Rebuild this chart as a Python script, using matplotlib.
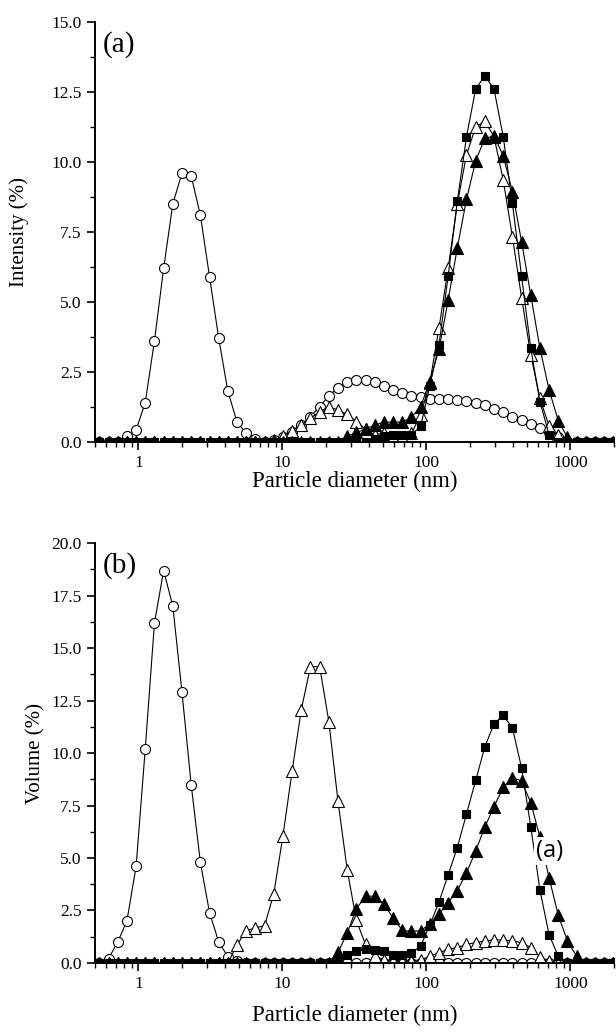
import matplotlib
matplotlib.use("Agg")
import matplotlib.pyplot as plt
from matplotlib.ticker import FixedLocator, MultipleLocator, FormatStrFormatter, NullFormatter

plt.rcParams['font.family'] = ['Liberation Serif', 'DejaVu Serif']

# size bins (nm)
diam = [0.4000, 0.4632, 0.5365, 0.6213, 0.7195, 0.8332, 0.9649, 1.117, 1.294, 1.499,
        1.736, 2.010, 2.328, 2.696, 3.122, 3.615, 4.187, 4.849, 5.615, 6.503,
        7.531, 8.721, 10.10, 11.70, 13.54, 15.69, 18.17, 21.04, 24.36, 28.21,
        32.67, 37.84, 43.82, 50.75, 58.77, 68.06, 78.82, 91.28, 105.7, 122.4,
        141.8, 164.2, 190.1, 220.2, 255.0, 295.3, 342.0, 396.1, 458.7, 531.2,
        615.1, 712.4, 825.0, 955.4, 1106, 1281, 1484, 1718, 1990, 2305]

# (a) intensity distributions
int_circle = [0, 0, 0, 0, 0, 0.2, 0.42, 1.4, 3.6, 6.2,
              8.5, 9.6, 9.5, 8.1, 5.9, 3.7, 1.8, 0.7, 0.3, 0.1,
              0, 0.05, 0.15, 0.35, 0.6, 0.9, 1.25, 1.65, 1.92, 2.12,
              2.2, 2.2, 2.12, 1.98, 1.85, 1.74, 1.64, 1.58, 1.54, 1.54,
              1.53, 1.5, 1.44, 1.38, 1.3, 1.18, 1.06, 0.9, 0.76, 0.63,
              0.5, 0.34, 0.18, 0, 0, 0, 0, 0, 0, 0]
int_otri = [0, 0, 0, 0, 0, 0, 0, 0, 0, 0,
            0, 0, 0, 0, 0, 0, 0, 0, 0, 0,
            0, 0.05, 0.2, 0.4, 0.6, 0.84, 1.07, 1.25, 1.13, 0.98,
            0.72, 0.45, 0.25, 0.3, 0.18, 0.18, 0.3, 0.95, 2.1, 4.05,
            6.2, 8.5, 10.25, 11.25, 11.45, 10.9, 9.35, 7.33, 5.15, 3.1,
            1.55, 0.55, 0.24, 0, 0, 0, 0, 0, 0, 0]
int_sq = [0, 0, 0, 0, 0, 0, 0, 0, 0, 0,
          0, 0, 0, 0, 0, 0, 0, 0, 0, 0,
          0, 0, 0, 0, 0, 0, 0, 0, 0, 0,
          0, 0, 0.1, 0.2, 0.25, 0.25, 0.25, 0.55, 2.0, 3.46,
          5.92, 8.6, 10.9, 12.6, 13.08, 12.6, 10.9, 8.52, 5.92, 3.34,
          1.43, 0.25, 0, 0, 0, 0, 0, 0, 0, 0]
int_ftri = [0, 0, 0, 0, 0, 0, 0, 0, 0, 0,
            0, 0, 0, 0, 0, 0, 0, 0, 0, 0,
            0, 0, 0, 0, 0, 0, 0, 0, 0, 0.2,
            0.33, 0.45, 0.6, 0.7, 0.7, 0.7, 0.87, 1.25, 2.15, 3.3,
            5.06, 6.93, 8.66, 10.04, 10.84, 10.93, 10.22, 8.94, 7.15, 5.24,
            3.34, 1.85, 0.75, 0.15, 0, 0, 0, 0, 0, 0]

# (b) volume distributions
vol_circle = [0, 0, 0, 0.21, 1.0, 2.0, 4.6, 10.2, 16.2, 18.7,
              17.0, 12.9, 8.5, 4.8, 2.4, 1.0, 0.3, 0.1, 0, 0,
              0, 0, 0, 0, 0, 0, 0, 0, 0, 0,
              0, 0, 0, 0, 0, 0, 0, 0, 0, 0,
              0, 0, 0, 0, 0, 0, 0, 0, 0, 0,
              0, 0, 0, 0, 0, 0, 0, 0, 0, 0]
vol_otri = [0, 0, 0, 0, 0, 0, 0, 0, 0, 0,
            0, 0, 0, 0, 0, 0, 0, 0.86, 1.54, 1.67,
            1.78, 3.29, 6.07, 9.15, 12.07, 14.12, 14.12, 11.5, 7.7, 4.45,
            2.03, 0.88, 0.35, 0.15, 0.1, 0.1, 0.1, 0.15, 0.32, 0.49,
            0.65, 0.73, 0.89, 0.97, 1.05, 1.1, 1.1, 1.05, 0.97, 0.73,
            0.28, 0.1, 0, 0, 0, 0, 0, 0, 0, 0]
vol_sq = [0, 0, 0, 0, 0, 0, 0, 0, 0, 0,
          0, 0, 0, 0, 0, 0, 0, 0, 0, 0,
          0, 0, 0, 0, 0, 0, 0, 0, 0, 0.4,
          0.57, 0.65, 0.6, 0.57, 0.4, 0.4, 0.49, 0.8, 1.8, 2.9,
          4.2, 5.5, 7.1, 8.7, 10.3, 11.4, 11.8, 11.2, 9.3, 6.5,
          3.48, 1.34, 0.32, 0, 0, 0, 0, 0, 0, 0]
vol_ftri = [0, 0, 0, 0, 0, 0, 0, 0, 0, 0,
            0, 0, 0, 0, 0, 0, 0, 0, 0, 0,
            0, 0, 0, 0, 0, 0, 0, 0, 0.5, 1.42,
            2.58, 3.18, 3.18, 2.8, 2.15, 1.56, 1.5, 1.54, 1.86, 2.35,
            2.87, 3.45, 4.29, 5.34, 6.48, 7.45, 8.37, 8.83, 8.67, 7.64,
            6.0, 4.05, 2.27, 1.05, 0.32, 0, 0, 0, 0, 0]

styles = [dict(marker='o', mfc='white', ms=7.2),
          dict(marker='^', mfc='white', ms=8),
          dict(marker='s', mfc='black', ms=6.2),
          dict(marker='^', mfc='black', ms=8)]


def draw_panel(ax, series, ymax, ylabel, tag, xpad, ypad):
    for vals, st in zip(series, styles):
        ax.plot(diam, vals, color='black', lw=0.8, mec='black', mew=0.8, **st)
    ax.set_xscale('log')
    ax.set_xlim(0.5, 2000)
    ax.set_ylim(0, ymax)
    ax.xaxis.set_major_locator(FixedLocator([1, 10, 100, 1000]))
    ax.xaxis.set_major_formatter(FormatStrFormatter('%d'))
    minors = [m * 10.0 ** e for e in range(-1, 4) for m in range(2, 10)]
    ax.xaxis.set_minor_locator(FixedLocator(minors))
    ax.xaxis.set_minor_formatter(NullFormatter())
    ax.yaxis.set_major_locator(MultipleLocator(2.5))
    ax.yaxis.set_minor_locator(MultipleLocator(1.25))
    ax.yaxis.set_major_formatter(FormatStrFormatter('%.1f'))
    for s in ['top', 'right']:
        ax.spines[s].set_visible(False)
    for s in ['left', 'bottom']:
        ax.spines[s].set_linewidth(1.4)
    ax.tick_params(which='major', direction='out', length=6, width=1.2, labelsize=12.5)
    ax.tick_params(which='minor', direction='out', length=3.5, width=1.0)
    ax.set_xlabel('Particle diameter (nm)', fontsize=16.5, labelpad=xpad)
    ax.set_ylabel(ylabel, fontsize=15, labelpad=ypad)
    ax.text(0.015, 0.978, tag, transform=ax.transAxes, ha='left', va='top', fontsize=21)


fig = plt.figure(figsize=(6.16, 10.32), dpi=100)
ax1 = fig.add_axes([0.1542, 0.572, 0.842, 0.4067])
ax2 = fig.add_axes([0.1542, 0.0669, 0.842, 0.4067])

draw_panel(ax1, [int_circle, int_otri, int_sq, int_ftri], 15, 'Intensity (%)', '(a)', 0, 16)
draw_panel(ax2, [vol_circle, vol_otri, vol_sq, vol_ftri], 20, 'Volume (%)', '(b)', 9, 4)

ax2.text(0.877, 0.266, '(a)', transform=ax2.transAxes, ha='center', va='center',
         fontsize=17, family=['Open Sans', 'DejaVu Sans'], zorder=5,
         bbox=dict(facecolor='white', edgecolor='none', pad=1.5))

fig.savefig('out.png', dpi=100)
